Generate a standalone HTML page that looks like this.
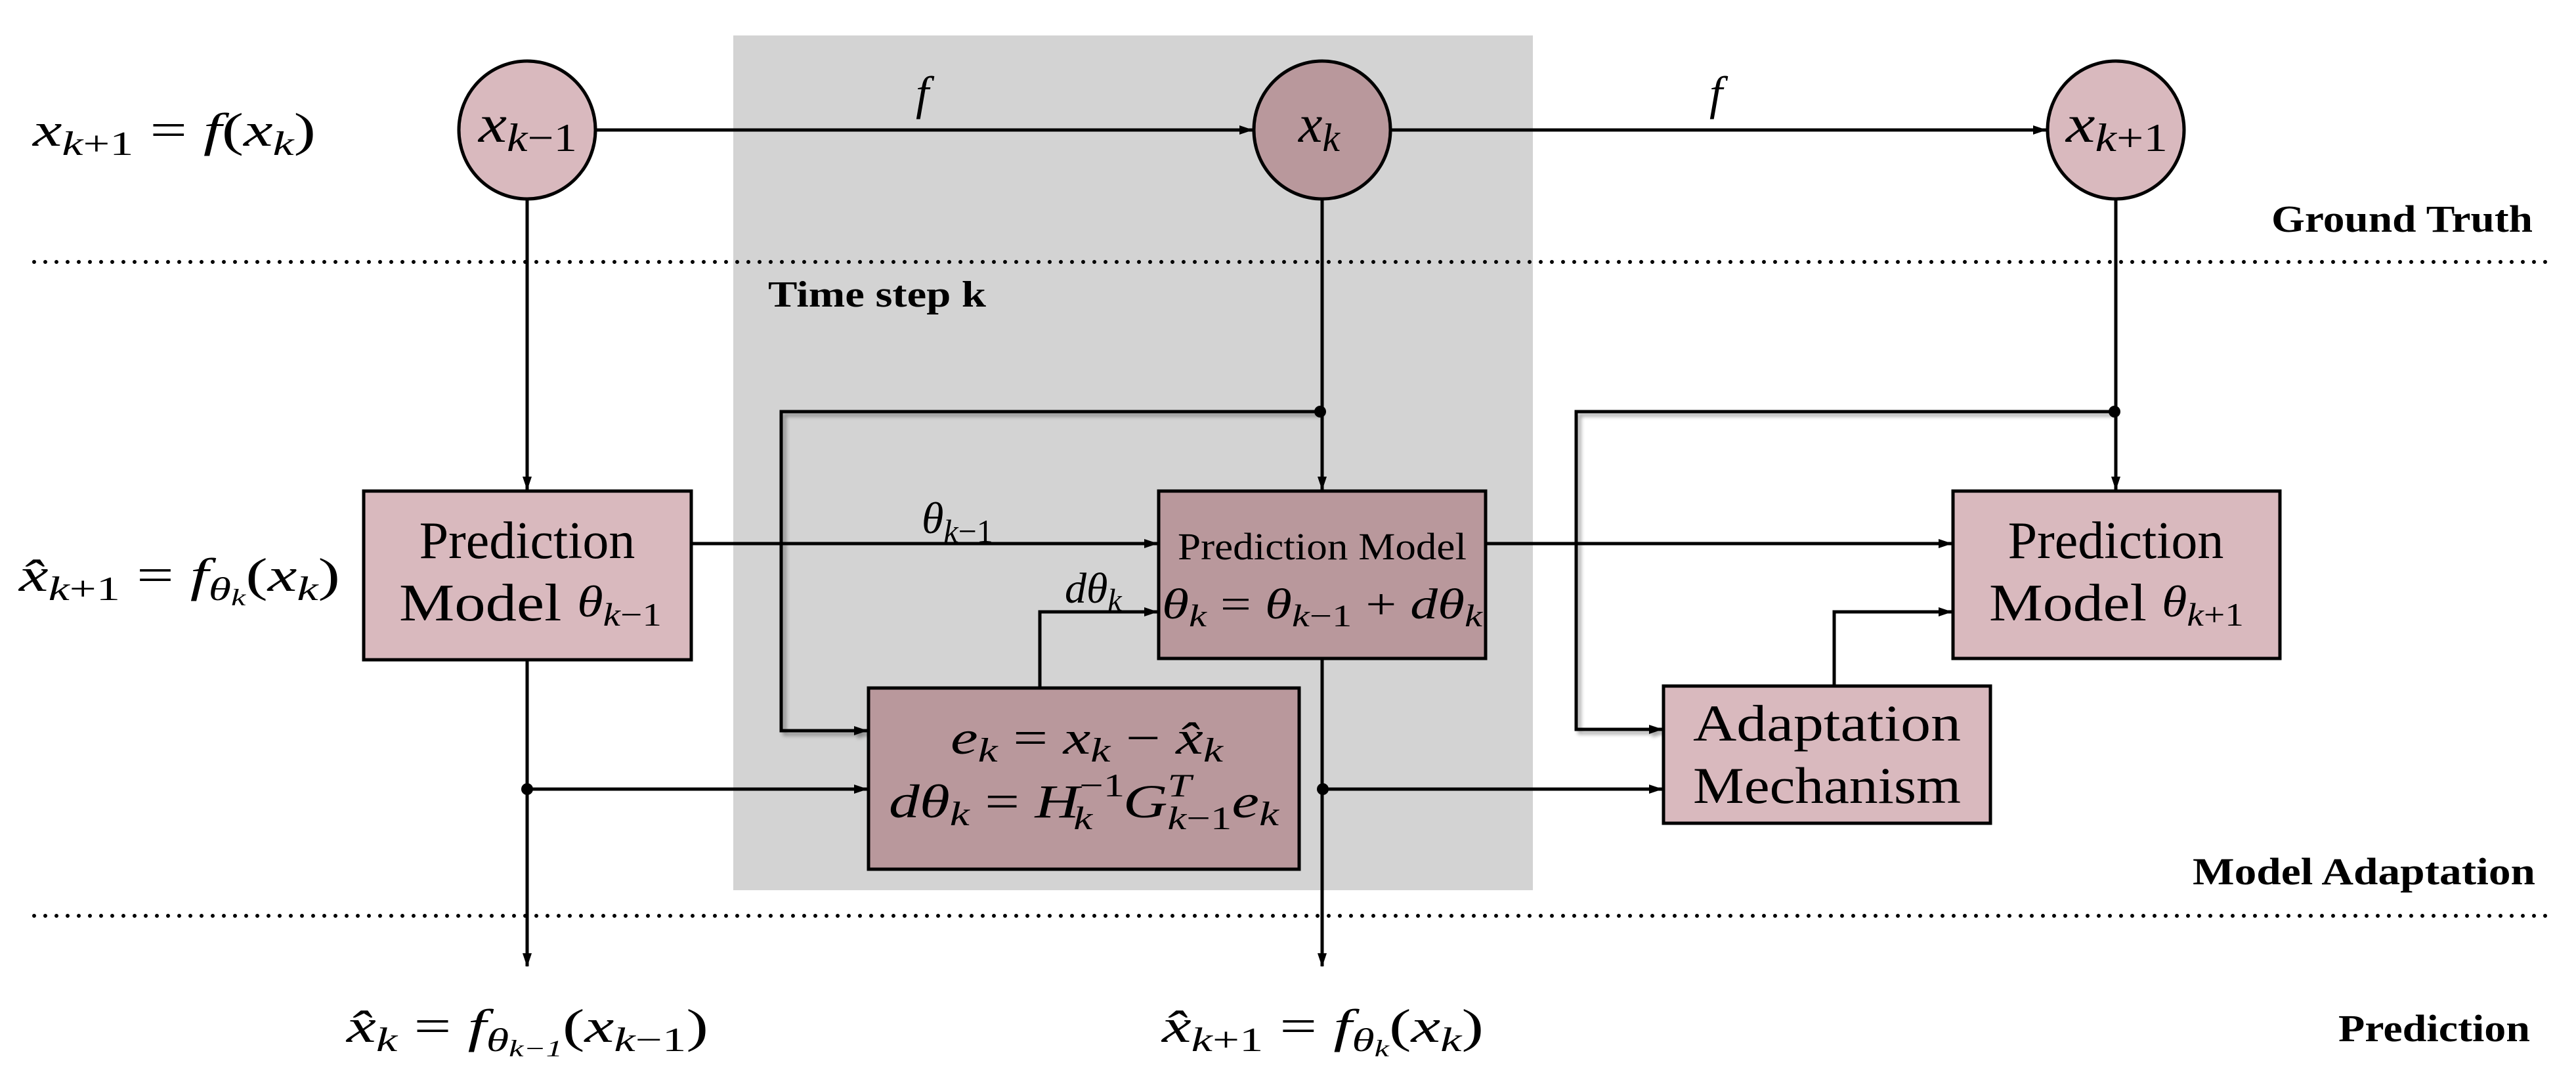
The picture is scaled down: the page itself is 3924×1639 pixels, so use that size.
<!DOCTYPE html>
<html><head><meta charset="utf-8"><style>
html,body{margin:0;padding:0;background:#fff;}
svg{display:block;}
text{font-family:"Liberation Serif",serif;fill:#000;}
.m{font-style:italic;}
.b{font-weight:bold;}
</style></head><body>
<svg width="3924" height="1639" viewBox="0 0 3924 1639" xmlns="http://www.w3.org/2000/svg">
<defs>
<marker id="a" markerWidth="22" markerHeight="16" refX="20" refY="8" orient="auto" markerUnits="userSpaceOnUse">
<path d="M0,1 L21,8 L0,15 Z" fill="#000"/></marker>
<filter id="sh" x="-5%" y="-5%" width="110%" height="110%"><feDropShadow dx="5" dy="5" stdDeviation="3" flood-color="#000" flood-opacity="0.35"/></filter>
</defs>

<rect x="1117" y="54" width="1218" height="1302" fill="#d3d3d3"/>

<line x1="52" y1="399" x2="3890" y2="399" stroke="#000" stroke-width="6" stroke-linecap="round" stroke-dasharray="0 17"/>
<line x1="52" y1="1395" x2="3890" y2="1395" stroke="#000" stroke-width="6" stroke-linecap="round" stroke-dasharray="0 17"/>

<g stroke="#000" stroke-width="5" fill="none">
<line x1="908" y1="198" x2="1908" y2="198" marker-end="url(#a)"/>
<line x1="2118" y1="198" x2="3117" y2="198" marker-end="url(#a)"/>
<line x1="803" y1="303" x2="803" y2="746" marker-end="url(#a)"/>
<line x1="2014" y1="303" x2="2014" y2="746" marker-end="url(#a)"/>
<line x1="3223" y1="303" x2="3223" y2="746" marker-end="url(#a)"/>
<polyline points="2011,627 1190,627 1190,1113 1321,1113" marker-end="url(#a)" filter="url(#sh)"/>
<polyline points="3221,627 2401,627 2401,1111 2532,1111" marker-end="url(#a)" filter="url(#sh)"/>
<line x1="1053" y1="828" x2="1763" y2="828" marker-end="url(#a)"/>
<line x1="2263" y1="828" x2="2973" y2="828" marker-end="url(#a)"/>
<polyline points="1584,1048 1584,932 1763,932" marker-end="url(#a)"/>
<polyline points="2794,1045 2794,932 2973,932" marker-end="url(#a)"/>
<line x1="803" y1="1005" x2="803" y2="1472" marker-end="url(#a)"/>
<line x1="2014" y1="1003" x2="2014" y2="1472" marker-end="url(#a)"/>
<line x1="803" y1="1202" x2="1321" y2="1202" marker-end="url(#a)"/>
<line x1="2015" y1="1202" x2="2532" y2="1202" marker-end="url(#a)"/>
</g>
<g fill="#000">
<circle cx="803" cy="1202" r="9"/><circle cx="2015" cy="1202" r="9"/>
<circle cx="2011" cy="627" r="9"/><circle cx="3221" cy="627" r="9"/>
</g>

<g stroke="#000" stroke-width="5">
<ellipse cx="803" cy="198" rx="104" ry="105" fill="#d9b9be"/>
<ellipse cx="2014" cy="198" rx="104" ry="105" fill="#b9989c"/>
<ellipse cx="3223" cy="198" rx="104" ry="105" fill="#d9b9be"/>
<rect x="554" y="748" width="499" height="257" fill="#d9b9be"/>
<rect x="1765" y="748" width="498" height="255" fill="#b9989c"/>
<rect x="2975" y="748" width="498" height="255" fill="#d9b9be"/>
<rect x="1323" y="1048" width="656" height="276" fill="#b9989c"/>
<rect x="2534" y="1045" width="498" height="209" fill="#d9b9be"/>
</g>

<text x="729" y="216" font-size="82" textLength="150" lengthAdjust="spacingAndGlyphs"><tspan class="m">x</tspan><tspan class="m" font-size="60" dy="14">k</tspan><tspan font-size="60">−1</tspan></text>
<text x="1978" y="216" font-size="82"><tspan class="m">x</tspan><tspan class="m" font-size="60" dy="14">k</tspan></text>
<text x="3147" y="216" font-size="82" textLength="155" lengthAdjust="spacingAndGlyphs"><tspan class="m">x</tspan><tspan class="m" font-size="60" dy="14">k</tspan><tspan font-size="60">+1</tspan></text>

<text x="1395" y="166" font-size="72" class="m">f</text>
<text x="2604" y="166" font-size="72" class="m">f</text>

<text x="50" y="222" font-size="72" textLength="431" lengthAdjust="spacingAndGlyphs"><tspan class="m">x</tspan><tspan font-size="52" dy="14"><tspan class="m">k</tspan>+1</tspan><tspan dy="-14"> = </tspan><tspan class="m">f</tspan>(<tspan class="m">x</tspan><tspan class="m" font-size="52" dy="14">k</tspan><tspan dy="-14">)</tspan></text>
<text x="29" y="900" font-size="72" textLength="489" lengthAdjust="spacingAndGlyphs"><tspan class="m">x̂</tspan><tspan font-size="52" dy="14"><tspan class="m">k</tspan>+1</tspan><tspan dy="-14"> = </tspan><tspan class="m">f</tspan><tspan class="m" font-size="50" dy="14">θ<tspan font-size="36" dy="8">k</tspan></tspan><tspan dy="-22">(</tspan><tspan class="m">x</tspan><tspan class="m" font-size="52" dy="14">k</tspan><tspan dy="-14">)</tspan></text>

<text x="803" y="850" font-size="80" text-anchor="middle">Prediction</text>
<text x="608" y="945" font-size="80" textLength="400" lengthAdjust="spacingAndGlyphs">Model <tspan class="m" font-size="68" dy="-6">θ</tspan><tspan font-size="50" dy="14"><tspan class="m">k</tspan>−1</tspan></text>

<text x="2014" y="852" font-size="58" text-anchor="middle" textLength="440" lengthAdjust="spacingAndGlyphs">Prediction Model</text>
<text x="1770" y="942" font-size="66" textLength="488" lengthAdjust="spacingAndGlyphs"><tspan class="m">θ</tspan><tspan class="m" font-size="48" dy="12">k</tspan><tspan dy="-12"> = </tspan><tspan class="m">θ</tspan><tspan font-size="48" dy="12"><tspan class="m">k</tspan>−1</tspan><tspan dy="-12"> + </tspan><tspan class="m">dθ</tspan><tspan class="m" font-size="48" dy="12">k</tspan></text>

<text x="3223" y="850" font-size="80" text-anchor="middle">Prediction</text>
<text x="3030" y="945" font-size="80" textLength="388" lengthAdjust="spacingAndGlyphs">Model <tspan class="m" font-size="68" dy="-6">θ</tspan><tspan font-size="50" dy="14"><tspan class="m">k</tspan>+1</tspan></text>

<text x="2783" y="1128" font-size="78" text-anchor="middle" textLength="408" lengthAdjust="spacingAndGlyphs">Adaptation</text>
<text x="2783" y="1223" font-size="78" text-anchor="middle" textLength="408" lengthAdjust="spacingAndGlyphs">Mechanism</text>

<text x="1448" y="1148" font-size="72" textLength="415" lengthAdjust="spacingAndGlyphs"><tspan class="m">e</tspan><tspan class="m" font-size="52" dy="12">k</tspan><tspan dy="-12"> = </tspan><tspan class="m">x</tspan><tspan class="m" font-size="52" dy="12">k</tspan><tspan dy="-12"> − </tspan><tspan class="m">x̂</tspan><tspan class="m" font-size="52" dy="12">k</tspan></text>
<text x="1354" y="1245" font-size="72" textLength="594" lengthAdjust="spacingAndGlyphs"><tspan class="m">dθ</tspan><tspan class="m" font-size="52" dy="12">k</tspan><tspan dy="-12"> = </tspan><tspan class="m">H</tspan><tspan font-size="50" dy="-32">−1</tspan><tspan class="m" font-size="50" dx="-60" dy="50">k</tspan><tspan dx="36" dy="-18" class="m">G</tspan><tspan class="m" font-size="50" dy="-32">T</tspan><tspan font-size="50" dx="-28" dy="50"><tspan class="m">k</tspan>−1</tspan><tspan class="m" dy="-18">e</tspan><tspan class="m" font-size="52" dy="12">k</tspan></text>

<text x="1404" y="812" font-size="68"><tspan class="m">θ</tspan><tspan font-size="50" dy="14"><tspan class="m">k</tspan>−1</tspan></text>
<text x="1622" y="918" font-size="66"><tspan class="m">dθ</tspan><tspan class="m" font-size="48" dy="12">k</tspan></text>

<text x="528" y="1587" font-size="72" textLength="551" lengthAdjust="spacingAndGlyphs"><tspan class="m">x̂</tspan><tspan class="m" font-size="52" dy="14">k</tspan><tspan dy="-14"> = </tspan><tspan class="m">f</tspan><tspan class="m" font-size="50" dy="14">θ<tspan font-size="36" dy="8"><tspan class="m">k</tspan>−1</tspan></tspan><tspan dy="-22">(</tspan><tspan class="m">x</tspan><tspan font-size="52" dy="14"><tspan class="m">k</tspan>−1</tspan><tspan dy="-14">)</tspan></text>
<text x="1770" y="1587" font-size="72" textLength="490" lengthAdjust="spacingAndGlyphs"><tspan class="m">x̂</tspan><tspan font-size="52" dy="14"><tspan class="m">k</tspan>+1</tspan><tspan dy="-14"> = </tspan><tspan class="m">f</tspan><tspan class="m" font-size="50" dy="14">θ<tspan font-size="36" dy="8">k</tspan></tspan><tspan dy="-22">(</tspan><tspan class="m">x</tspan><tspan class="m" font-size="52" dy="14">k</tspan><tspan dy="-14">)</tspan></text>

<text x="1170" y="467" font-size="56" class="b" textLength="332" lengthAdjust="spacingAndGlyphs">Time step k</text>
<text x="3858" y="353" font-size="58" class="b" text-anchor="end" textLength="398" lengthAdjust="spacingAndGlyphs">Ground Truth</text>
<text x="3862" y="1347" font-size="58" class="b" text-anchor="end" textLength="522" lengthAdjust="spacingAndGlyphs">Model Adaptation</text>
<text x="3854" y="1586" font-size="58" class="b" text-anchor="end" textLength="292" lengthAdjust="spacingAndGlyphs">Prediction</text>
</svg>
</body></html>
